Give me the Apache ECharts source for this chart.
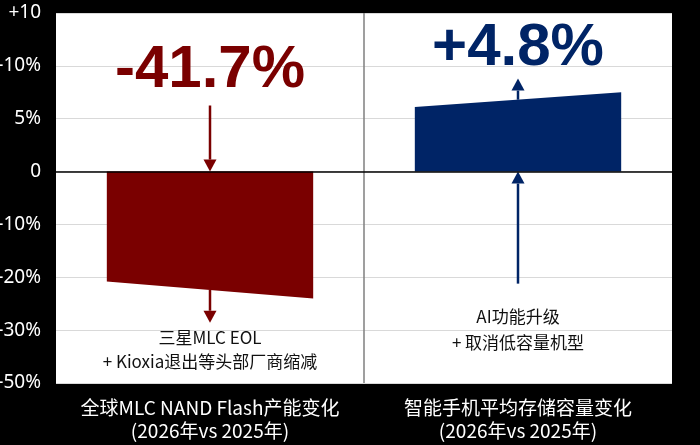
<!DOCTYPE html>
<html>
<head>
<meta charset="utf-8">
<script src="https://cdn.jsdelivr.net/npm/echarts@6/dist/echarts.min.js"></script>
<style>
html,body{margin:0;padding:0;background:#000;}
#chart{width:700px;height:445px;}
</style>
</head>
<body>
<div id="chart"></div>
<script>
// ---- data ----
const categories = ['全球MLC NAND Flash产能变化\n(2026年vs 2025年)', '智能手机平均存储容量变化\n(2026年vs 2025年)'];
const barStartPct = [-20.8, 6.1];   // value at left edge of each bar (read on the axis)
const barEndPct = [-24.0, 7.5];     // value at right edge of each bar
const changeLabels = ['-41.7%', '+4.8%'];
const noteTexts = ['三星MLC EOL\n+ Kioxia退出等头部厂商缩减', 'AI功能升级\n+ 取消低容量机型'];
const tickLabels = ['-50%', '-30%', '-20%', '-10%', '0', '5%', '-10%', '+10'];
const tickPct = [-50, -30, -20, -10, 0, 5, 10];

// map a percent value onto the (non-linear) tick scale used by the axis
function toAxis(p) {
  for (let i = 0; i < tickPct.length - 1; i++) {
    if (p >= tickPct[i] && p <= tickPct[i + 1]) {
      return -4 + i + (p - tickPct[i]) / (tickPct[i + 1] - tickPct[i]);
    }
  }
  return 0;
}

const seriesData = categories.map((c, i) => [i, toAxis(barStartPct[i]), toAxis(barEndPct[i])]);

const RED = '#7a0000';
const BLUE = '#002466';

function arrow(x, yFrom, yTo, color) {
  const dir = yTo > yFrom ? 1 : -1; // 1 = pointing down
  const hh = 12, hw = 6.5;
  return [
    { type: 'line', shape: { x1: x, y1: yFrom, x2: x, y2: yTo - dir * hh }, style: { stroke: color, lineWidth: 2.5 } },
    { type: 'polygon', shape: { points: [[x, yTo], [x - hw, yTo - dir * hh], [x + hw, yTo - dir * hh]] }, style: { fill: color } }
  ];
}

function renderItem(params, api) {
  const i = api.value(0);
  const v0 = api.value(1), v1 = api.value(2);
  const base = api.coord([i, 0]);
  const cx = base[0], y0 = base[1];
  const band = api.size([1, 0])[0];
  const half = band * 0.335;
  const y1a = api.coord([i, v0])[1];
  const y1b = api.coord([i, v1])[1];
  const neg = v0 < 0;
  const color = neg ? RED : BLUE;
  const ymid = (y1a + y1b) / 2;
  const cs = params.coordSys;
  const Y = (u) => api.coord([i, u])[1];
  const children = [];
  children.push({
    type: 'polygon',
    shape: { points: [[cx - half, y0], [cx + half, y0], [cx + half, y1b], [cx - half, y1a]] },
    style: { fill: color }
  });
  if (i === 0) {
    const sx = cx + band / 2;
    children.push({ type: 'line', shape: { x1: sx, y1: cs.y, x2: sx, y2: cs.y + cs.height }, style: { stroke: '#7f7f7f', lineWidth: 1.5 } });
  }
  const noteFont = { fill: '#111', fontSize: 17, fontFamily: '"Noto Sans CJK SC", sans-serif', align: 'center', verticalAlign: 'middle' };
  const bigFont = { fill: color, fontSize: 60, fontWeight: 'bold', fontFamily: '"Liberation Sans", Arial, sans-serif', align: 'center', verticalAlign: 'middle' };
  if (neg) {
    children.push(...arrow(cx, Y(1.25), y0, color));
    children.push(...arrow(cx, ymid, Y(-2.86), color));
    children.push({ type: 'text', style: Object.assign({ text: changeLabels[i], x: cx, y: Y(1.91) }, bigFont) });
    children.push({ type: 'text', style: Object.assign({ text: noteTexts[i], x: cx, y: Y(-3.37), lineHeight: 24 }, noteFont) });
  } else {
    children.push(...arrow(cx, Y(-2.12), y0, color));
    children.push(...arrow(cx, ymid, Y(1.76), color));
    children.push({ type: 'text', style: Object.assign({ text: changeLabels[i], x: cx, y: Y(2.33) }, bigFont) });
    children.push({ type: 'text', style: Object.assign({ text: noteTexts[i], x: cx, y: Y(-2.98), lineHeight: 26 }, noteFont) });
  }
  return { type: 'group', children };
}

const chart = echarts.init(document.getElementById('chart'));
chart.setOption({
  backgroundColor: '#000',
  animation: false,
  grid: { left: 56, right: 28, top: 13, bottom: 62, show: true, backgroundColor: '#fff', borderWidth: 0, containLabel: false, outerBoundsMode: 'none' },
  xAxis: {
    type: 'category',
    data: categories,
    axisLine: { show: false },
    axisTick: { show: false },
    splitLine: { show: false },
    axisLabel: { interval: 0, hideOverlap: false, color: '#fff', fontSize: 19, lineHeight: 23, margin: 13, fontFamily: '"Noto Sans CJK SC", sans-serif' }
  },
  yAxis: {
    type: 'value',
    min: -4, max: 3, interval: 1,
    axisLine: { show: false },
    axisTick: { show: false },
    splitLine: { lineStyle: { color: '#d9d9d9', width: 1 } },
    axisLabel: { color: '#fff', fontSize: 19, margin: 15, fontFamily: '"Noto Sans", sans-serif', formatter: (v) => tickLabels[Math.round(v) + 4] }
  },
  series: [{
    type: 'custom',
    renderItem: renderItem,
    data: seriesData,
    encode: { x: 0, y: [1, 2] },
    clip: false,
    z: 3,
    markLine: {
      silent: true,
      symbol: 'none',
      label: { show: false },
      lineStyle: { color: '#000', width: 1.5, type: 'solid' },
      data: [{ yAxis: 0 }],
      z: 5
    }
  }]
});
</script>
</body>
</html>
